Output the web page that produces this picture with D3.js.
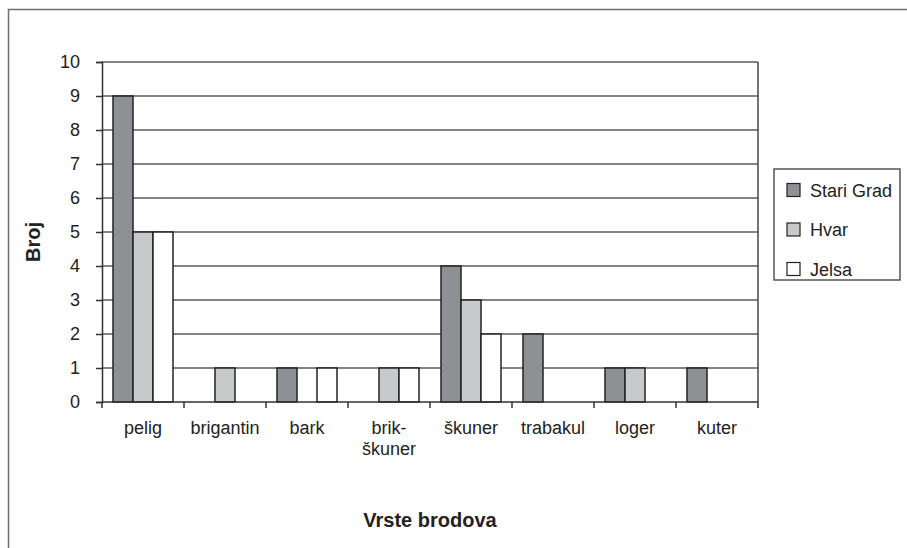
<!DOCTYPE html>
<html>
<head>
<meta charset="utf-8">
<script src="https://cdn.jsdelivr.net/npm/d3@7/dist/d3.min.js"></script>
<style>
  html, body { margin: 0; padding: 0; background: #fff; }
  svg { display: block; font-family: "Liberation Sans", Arial, sans-serif; }
</style>
</head>
<body>
<svg id="chart" width="907" height="548"></svg>
<script>
// Ship types and counts per town
const categories = ["pelig", "brigantin", "bark", "brik-\nškuner", "škuner", "trabakul", "loger", "kuter"];
const series = ["Stari Grad", "Hvar", "Jelsa"];
const stariGrad = [9, 0, 1, 0, 4, 2, 1, 1];
const hvar      = [5, 1, 0, 1, 3, 0, 1, 0];
const jelsa     = [5, 0, 1, 1, 2, 0, 0, 0];
const yTicks = [0, 1, 2, 3, 4, 5, 6, 7, 8, 9, 10];
const fills = ["#8f9094", "#c8c9cb", "#ffffff"];

const values = [stariGrad, hvar, jelsa];
const rows = categories.map((c, i) => ({
  cat: c,
  vals: series.map((s, j) => ({ key: s, value: values[j][i], color: fills[j] }))
}));

const svg = d3.select("#chart");
const plot = { left: 102, right: 758, top: 62, bottom: 402 };

// Outer chart frame (extends past the visible page on the right and bottom)
svg.append("rect")
  .attr("x", 8.5).attr("y", 9.5).attr("width", 1200).attr("height", 1200)
  .attr("fill", "none").attr("stroke", "#6e6e6e").attr("stroke-width", 1.5);

const x = d3.scaleBand().domain(categories).range([plot.left, plot.right]).paddingInner(0).paddingOuter(0);
const xSub = d3.scaleBand().domain(series).range([0, x.bandwidth()]).paddingInner(0).paddingOuter(0.55);
const y = d3.scaleLinear().domain([0, 10]).range([plot.bottom, plot.top]);

// Horizontal gridlines
svg.append("g")
  .selectAll("line")
  .data(yTicks.filter(t => t > 0))
  .join("line")
  .attr("x1", plot.left).attr("x2", plot.right)
  .attr("y1", d => y(d)).attr("y2", d => y(d))
  .attr("stroke", "#5a5a5a").attr("stroke-width", 1.5);

// Right border of plot area
svg.append("line")
  .attr("x1", plot.right).attr("x2", plot.right)
  .attr("y1", plot.top).attr("y2", plot.bottom)
  .attr("stroke", "#444").attr("stroke-width", 1.5);

// Bars
const groups = svg.append("g")
  .selectAll("g")
  .data(rows)
  .join("g")
  .attr("transform", d => `translate(${x(d.cat)},0)`);

groups.selectAll("rect")
  .data(d => d.vals.filter(v => v.value > 0))
  .join("rect")
  .attr("x", d => xSub(d.key))
  .attr("width", xSub.bandwidth())
  .attr("y", d => y(d.value))
  .attr("height", d => y(0) - y(d.value))
  .attr("fill", d => d.color)
  .attr("stroke", "#222")
  .attr("stroke-width", 1.5);

// Y axis
const yAxis = svg.append("g")
  .attr("transform", `translate(${plot.left},0)`)
  .call(d3.axisLeft(y).tickValues(yTicks).tickSize(6).tickPadding(16).tickFormat(d3.format("d")));
yAxis.select(".domain").attr("stroke", "#333").attr("stroke-width", 1.5);
yAxis.selectAll(".tick line").attr("stroke", "#333").attr("stroke-width", 1.5);
yAxis.selectAll(".tick text")
  .attr("font-size", 18).attr("fill", "#222")
  .attr("font-family", "'Liberation Sans', Arial, sans-serif");

// X axis: baseline, boundary ticks and category labels
const bounds = categories.map(c => x(c)).concat([plot.right]);
svg.append("line")
  .attr("x1", plot.left).attr("x2", plot.right)
  .attr("y1", y(0)).attr("y2", y(0))
  .attr("stroke", "#333").attr("stroke-width", 1.5);
svg.append("g")
  .selectAll("line")
  .data(bounds)
  .join("line")
  .attr("x1", d => d).attr("x2", d => d)
  .attr("y1", y(0)).attr("y2", y(0) + 6)
  .attr("stroke", "#333").attr("stroke-width", 1.5);

const labels = svg.append("g")
  .selectAll("text")
  .data(categories)
  .join("text")
  .attr("x", d => x(d) + x.bandwidth() / 2)
  .attr("y", y(0) + 32)
  .attr("text-anchor", "middle")
  .attr("font-size", 18)
  .attr("fill", "#222");
labels.selectAll("tspan")
  .data(d => d.split("\n").map(t => ({ t, cx: x(d) + x.bandwidth() / 2 })))
  .join("tspan")
  .attr("x", d => d.cx)
  .attr("dy", (d, i) => i === 0 ? 0 : 21)
  .text(d => d.t);

// Axis titles
svg.append("text")
  .attr("transform", `translate(40,242) rotate(-90)`)
  .attr("text-anchor", "middle")
  .attr("font-size", 20).attr("font-weight", "bold").attr("fill", "#222")
  .text("Broj");

svg.append("text")
  .attr("x", (plot.left + plot.right) / 2)
  .attr("y", 527)
  .attr("text-anchor", "middle")
  .attr("font-size", 20).attr("font-weight", "bold").attr("fill", "#222")
  .text("Vrste brodova");

// Legend
const legend = svg.append("g");
legend.append("rect")
  .attr("x", 774).attr("y", 169).attr("width", 126).attr("height", 111)
  .attr("fill", "#fff").attr("stroke", "#555").attr("stroke-width", 1.5);
const items = legend.selectAll("g.item")
  .data(series.map((s, i) => ({ s, color: fills[i] })))
  .join("g")
  .attr("class", "item")
  .attr("transform", (d, i) => `translate(787,${190 + i * 39.5})`);
items.append("rect")
  .attr("x", 0).attr("y", -6.5).attr("width", 13).attr("height", 13)
  .attr("fill", d => d.color).attr("stroke", "#222").attr("stroke-width", 1.2);
items.append("text")
  .attr("x", 23).attr("y", 6.5)
  .attr("font-size", 18).attr("fill", "#222")
  .text(d => d.s);
</script>
</body>
</html>
